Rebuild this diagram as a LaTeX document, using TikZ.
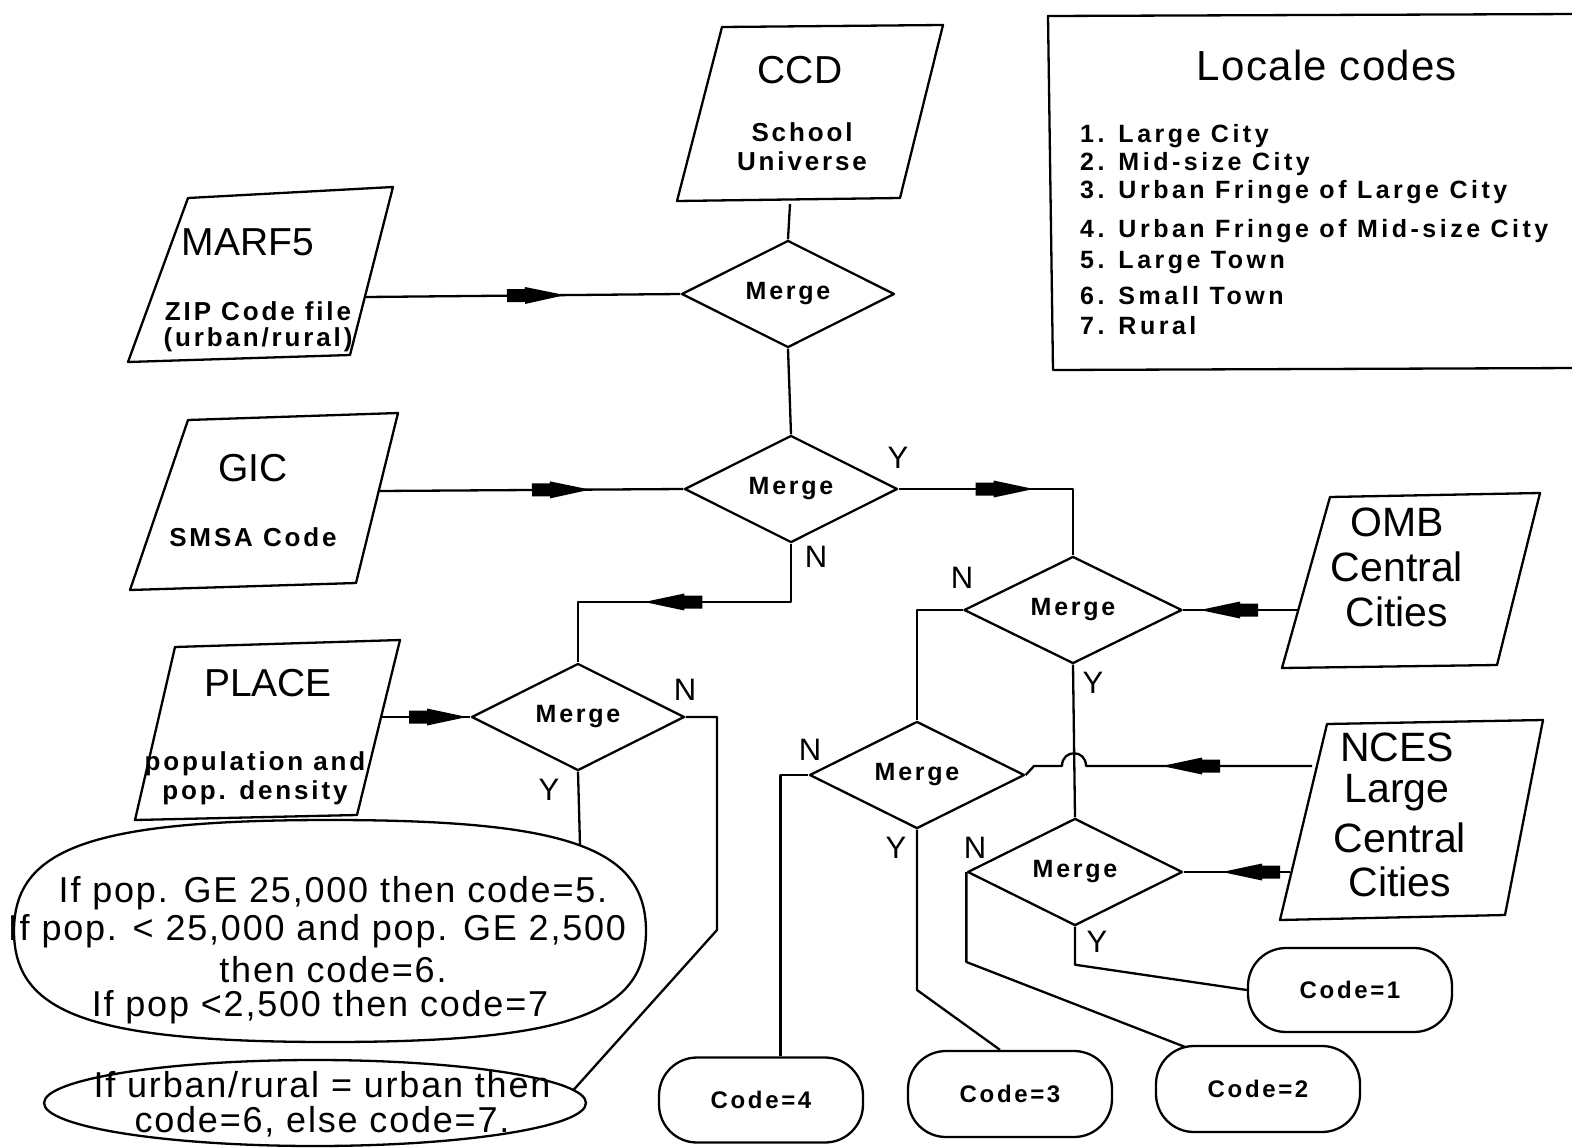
\documentclass[tikz,border=0pt]{standalone}
\usepackage{fontspec}
\setmainfont{Liberation Sans}
\newfontfamily\spacedfont[LetterSpace=11]{Liberation Sans}
\newfontfamily\listfont[LetterSpace=14]{Liberation Sans}
\newfontfamily\ovalfont[LetterSpace=5]{Liberation Sans}
\usetikzlibrary{shapes.geometric,decorations.markings,calc}

\tikzset{
  fl/.style={line width=2.3pt, line join=round},
  mergebox/.style={draw, fl, diamond, inner sep=0pt, font=\spacedfont\bfseries\fontsize{25}{25}\selectfont},
  codebox/.style={draw, fl, rectangle, rounded corners=38pt, minimum width=204pt, minimum height=84pt, inner sep=0pt, font=\spacedfont\bfseries\fontsize{24}{24}\selectfont},
  ovalbox/.style={draw, fl, ellipse, inner sep=0pt},
  bigtitle/.style={inner sep=0pt, font=\fontsize{39}{39}\selectfont},
  sidetitle/.style={inner sep=0pt, font=\fontsize{41}{41}\selectfont},
  smalltxt/.style={inner sep=0pt, font=\spacedfont\bfseries\fontsize{26}{26}\selectfont},
  listtxt/.style={inner sep=0pt, anchor=west, font=\listfont\bfseries\fontsize{25}{25}\selectfont},
  ovaltxt/.style={inner sep=0pt, font=\ovalfont\fontsize{36}{36}\selectfont},
  yn/.style={inner sep=0pt, font=\fontsize{31}{31}\selectfont},
  midarrow/.style={postaction={decorate}, decoration={markings,
      mark=at position #1 with {\fill (0pt,0pt) -- (-40pt,8.5pt) -- (-40pt,6.5pt) -- (-58pt,6.5pt) -- (-58pt,-6.5pt) -- (-40pt,-6.5pt) -- (-40pt,-8.5pt) -- cycle;}}},
}

\begin{document}
\begin{tikzpicture}[x=1pt, y=-1pt]
\path[use as bounding box, fill=white] (0,0) rectangle (1572,1148);

% ---------- parallelograms ----------
\draw[fl] (677,201) -- (722,27) -- (943,25) -- (900,198) -- cycle;
\node[bigtitle] (ccdT) at (800,70) {CCD};
\node[smalltxt] (ccdA) at (802,132) {School};
\node[smalltxt] (ccdB) at (802,161) {Universe};
\coordinate (ccdS) at (790,204);

\draw[fl] (128,362) -- (188,198) -- (393,187) -- (350,355) -- cycle;
\node[bigtitle] (marfT) at (248,242) {MARF5};
\node[smalltxt] (marfA) at (258,311) {ZIP Code file};
\node[smalltxt] (marfB) at (258,340) {(urban/rural)};
\coordinate (marfE) at (366,297);

\draw[fl] (130,590) -- (188,420) -- (398,413) -- (356,583) -- cycle;
\node[bigtitle] (gicT) at (253,468) {GIC};
\node[smalltxt] (gicA) at (253,537) {SMSA Code};
\coordinate (gicE) at (378,491);

\draw[fl] (135,820) -- (175,647) -- (400,640) -- (357,815) -- cycle;
\node[bigtitle] (placeT) at (268,683) {PLACE};
\node[smalltxt] (placeA) at (255,764) {population and};
\node[smalltxt] (placeB) at (255,793) {pop. density};
\coordinate (placeE) at (381,717);

\draw[fl] (1282,668) -- (1330,497) -- (1540,493) -- (1497,665) -- cycle;
\node[sidetitle] (ombT) at (1397,522) {OMB};
\node[sidetitle] (ombA) at (1397,567) {Central};
\node[sidetitle] (ombB) at (1397,612) {Cities};
\coordinate (ombE) at (1298,610);

\draw[fl] (1280,920) -- (1327,724) -- (1543,720) -- (1505,915) -- cycle;
\node[sidetitle] (ncesT) at (1397,747) {NCES};
\node[sidetitle] (ncesA) at (1397,793) {Large};
\node[sidetitle] (ncesB) at (1400,838) {Central};
\node[sidetitle] (ncesC) at (1400,882) {Cities};
\coordinate (ncesE) at (1312,766);
\coordinate (ncesF) at (1290,872);

% ---------- locale codes box ----------
\draw[fl] (1580,14) -- (1048,16) -- (1053,370) -- (1580,368);
\node[inner sep=0pt, font=\fontsize{42}{42}\selectfont\addfontfeature{LetterSpace=3}] (locT) at (1327,65) {Locale codes};
\node[listtxt] (l1) at (1080,136) {1. Large City};
\node[listtxt] (l2) at (1080,164) {2. Mid-size City};
\node[listtxt] (l3) at (1080,192) {3. Urban Fringe of Large City};
\node[listtxt] (l4) at (1080,231) {4. Urban Fringe of Mid-size City};
\node[listtxt] (l5) at (1080,263) {5. Large Town};
\node[listtxt] (l6) at (1080,296) {6. Small Town};
\node[listtxt] (l7) at (1080,326) {7. Rural};

% ---------- merge diamonds ----------
\node[mergebox, minimum width=213pt, minimum height=97pt] (m1) at (788,294) {Merge};
\node[mergebox, minimum width=213pt, minimum height=97pt] (m2) at (791,489) {Merge};
\node[mergebox, minimum width=218pt, minimum height=95pt] (m3) at (1073,610) {Merge};
\node[mergebox, minimum width=215pt, minimum height=96pt] (m4) at (917,775) {Merge};
\node[mergebox, minimum width=215pt, minimum height=93pt] (m5) at (1075,872) {Merge};
\node[mergebox, minimum width=213pt, minimum height=95pt] (m6) at (578,717) {Merge};

% ---------- result boxes ----------
\node[codebox] (code1) at (1350,990) {Code=1};
\node[codebox, minimum height=86pt] (code2) at (1258,1089) {Code=2};
\node[codebox, minimum height=86pt] (code3) at (1010,1094) {Code=3};
\node[codebox, minimum height=85pt] (code4) at (761,1100) {Code=4};

% big rounded oval (squarish ellipse)
\draw[fl] (14,931) .. controls (14,847.75) and (93,820) .. (330,820)
  .. controls (567,820) and (646,847.75) .. (646,931)
  .. controls (646,1014.25) and (567,1042) .. (330,1042)
  .. controls (93,1042) and (14,1014.25) .. (14,931) -- cycle;
\node[inner sep=0pt, minimum width=632pt, minimum height=222pt] (bigov) at (330,931) {};
\coordinate (bigtop) at (580,845);
\node[ovaltxt] (bo1) at (333,893) {If pop. GE 25,000 then code=5.};
\node[ovaltxt] (bo2) at (317,931) {If pop. < 25,000 and pop. GE 2,500};
\node[ovaltxt] (bo3) at (333,970) {then code=6.};
\node[ovaltxt] (bo4) at (320,1007) {If pop <2,500 then code=7};

\node[ovalbox, minimum width=542pt, minimum height=86pt] (smov) at (315,1103) {};
\node[ovaltxt] (so1) at (322,1085) {If urban/rural = urban then};
\node[ovaltxt] (so2) at (322,1122) {code=6, else code=7.};

% ---------- connectors ----------
\draw[fl] (ccdS) -- (m1.north);
\draw[fl, midarrow=199pt] (marfE) -- (m1.west);
\draw[fl] (m1.south) -- (m2.north);
\draw[fl, midarrow=135pt] (m2.east) -- (m2.east -| m3.north) -- (m3.north);
\draw[fl, midarrow=212pt] (gicE) -- (m2.west);
\draw[fl, midarrow=205pt] (m2.south) -- (m2.south |- 0,602) -- (m6.north |- 0,602) -- (m6.north);
\draw[fl, midarrow=86pt] (placeE) -- (m6.west);
\draw[fl] (m6.south) -- (bigtop);
\draw[fl] (m6.east) -- (717,717) -- (717,930) -- (smov.3);
\draw[fl, midarrow=98pt] (ombE) -- (m3.east);
\draw[fl] (m3.west) -- (m3.west -| m4.north) -- (m4.north);
\draw[fl] (m3.south) -- (m5.north);
\draw[fl, midarrow=150pt] (ncesE) -- (1086,766) .. controls (1086,749) and (1062,749) .. (1062,766) -- (1034,766) -- (m4.east);
\draw[fl, midarrow=68pt] (ncesF) -- (m5.east);
\draw[fl] (m5.south) -- ++(0,38) -- (code1.west);
\draw[fl] (m5.west) -- (m5.west |- 0,962) -- ($(code2.north west)+(30,2)$);
\draw[fl] (m4.south) -- (m4.south |- 0,990) -- ($(code3.north)+(-10,0)$);
\draw[fl] (m4.west) -- ++(-28,0) coordinate (n4) -- (n4 |- code4.north);

% ---------- Y / N labels ----------
\node[yn] (y2) at (898,458) {Y};
\node[yn] (n2) at (816,557) {N};
\node[yn] (n3) at (962,578) {N};
\node[yn] (y3) at (1093,683) {Y};
\node[yn] (n4l) at (810,750) {N};
\node[yn] (y4) at (896,848) {Y};
\node[yn] (n5) at (975,848) {N};
\node[yn] (y5) at (1097,942) {Y};
\node[yn] (n6) at (685,690) {N};
\node[yn] (y6) at (549,790) {Y};
\end{tikzpicture}
\end{document}
